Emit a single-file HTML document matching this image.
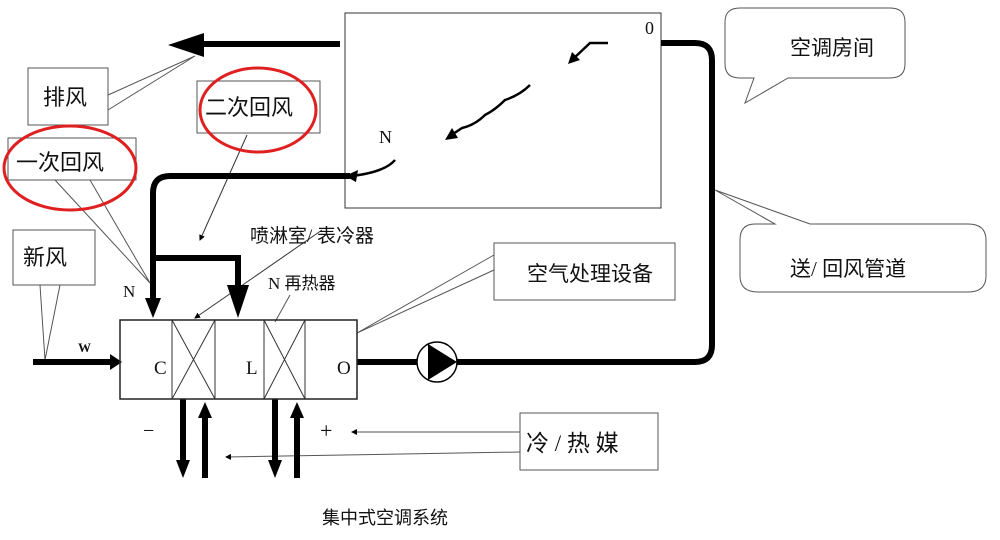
<!DOCTYPE html><html><head><meta charset="utf-8"><style>body{margin:0;background:#fff}svg{display:block}text{font-family:"Liberation Serif","Noto Sans CJK SC",serif;fill:#111}</style></head><body>
<svg width="1000" height="540" viewBox="0 0 1000 540" xmlns="http://www.w3.org/2000/svg">
<defs><marker id="a" markerWidth="6" markerHeight="6" refX="5" refY="3" orient="auto"><path d="M0,0L6,3L0,6z" fill="#000"/></marker></defs>
<g fill="none" stroke="#555" stroke-width="1">
<rect x="345" y="13" width="316" height="195" stroke="#333"/>
<path d="M108,95 L195,56 L108,110" fill="#fff"/>
<rect x="28" y="68" width="80" height="57" fill="#fff"/>
<rect x="197" y="81" width="123" height="52" fill="#fff"/>
<rect x="8" y="138" width="128" height="42" fill="#fff"/>
<path d="M55,180 L150,283 L90,180"/>
<path d="M247,135 L200,240" marker-end="url(#a)" stroke="#333"/>
<rect x="13" y="230" width="82" height="55" fill="#fff"/>
<path d="M40,285 L45,360 L60,285"/>
<rect x="494" y="243" width="181" height="57" fill="#fff"/>
<path d="M494,255 L357,333 L494,270"/>
<path d="M322,230 L195,318" marker-end="url(#a)" stroke="#333"/>
<path d="M290,295 L275,322"/>
<path d="M740,8 H890 Q905,8 905,22 V64 Q905,78 890,78 H788 L745,103 L754,78 H740 Q725,78 725,64 V22 Q725,8 740,8z"/>
<path d="M715,190 L775,224 H755 Q740,224 740,240 V276 Q740,292 758,292 H968 Q986,292 986,276 V240 Q986,224 968,224 H810z"/>
<rect x="520" y="413" width="138" height="57" fill="#fff"/>
<path d="M520,432 H352" marker-end="url(#a)"/>
<path d="M520,452 L226,457" marker-end="url(#a)"/>
</g>
<ellipse cx="258" cy="110" rx="58" ry="42" fill="none" stroke="#e02020" stroke-width="3"/>
<ellipse cx="70" cy="168" rx="66" ry="42" fill="none" stroke="#e02020" stroke-width="3"/>
<g fill="none" stroke="#000" stroke-width="6">
<path d="M340,44 H198"/>
<path d="M661,43 H695 Q712,43 712,60 V345 Q712,362 695,362 H455"/>
<path d="M350,176 H170 Q153,176 153,193 V300"/>
<path d="M153,258 H238 V290"/>
<path d="M33,362 H112"/>
<path d="M357,362 H418"/>
<path d="M183,399 V462 M205,478 V415 M275,399 V462 M297,478 V415"/>
</g>
<path d="M168,45 L204,33 L204,57z"/>
<path d="M145,298 L161,298 L153,318z"/>
<path d="M227,285 L249,285 L238,318z"/>
<path d="M110,354 L122,362 L110,370z"/>
<path d="M176,460 L190,460 L183,478z M198,418 L212,418 L205,402z M268,460 L282,460 L275,478z M290,418 L304,418 L297,402z"/>
<rect x="120" y="320" width="237" height="79" fill="none" stroke="#222" stroke-width="1.5"/>
<g stroke="#333" stroke-width="1" fill="none">
<path d="M172,320V399M215,320V399M264,320V399M305,320V399M172,320L215,399M215,320L172,399M264,320L305,399M305,320L264,399"/>
</g>
<circle cx="437" cy="362" r="20" fill="#fff" stroke="#000" stroke-width="1.5"/>
<path d="M428,344 L457,362 L428,380z"/>
<g fill="none" stroke="#000" stroke-width="2.5">
<path d="M395,160 Q385,172 352,176"/>
<path d="M530,85 Q520,95 505,100 Q495,110 485,115 Q475,125 462,128 L450,136"/>
<path d="M608,43 H590 L572,60"/>
</g>
<path d="M345,176 L358,170 L356,182z M445,140 L452,128 L458,138z M568,64 L572,52 L580,60z"/>
<g font-size="18">
<text x="43" y="105" font-size="22">排风</text>
<text x="205" y="115" font-size="22">二次回风</text>
<text x="16" y="170" font-size="22">一次回风</text>
<text x="23" y="265" font-size="22">新风</text>
<text x="250" y="242" font-size="19">喷淋室/  表冷器</text>
<text x="123" y="297" font-size="17">N</text>
<text x="268" y="289" font-size="17">N 再热器</text>
<text x="78" y="352" font-size="13" font-weight="bold">W</text>
<text x="154" y="374" font-size="19">C</text>
<text x="246" y="374" font-size="19">L</text>
<text x="337" y="374" font-size="19">O</text>
<text x="379" y="143" font-size="18">N</text>
<text x="645" y="34" font-size="18">0</text>
<text x="527" y="281" font-size="21">空气处理设备</text>
<text x="790" y="55" font-size="21">空调房间</text>
<text x="790" y="276" font-size="21">送/  回风管道</text>
<text x="526" y="451" font-size="23">冷 / 热 媒</text>
<text x="143" y="437" font-size="20" fill="#888">−</text>
<text x="320" y="438" font-size="22">+</text>
<text x="322" y="524" font-size="18">集中式空调系统</text>
</g>
</svg>
</body></html>
